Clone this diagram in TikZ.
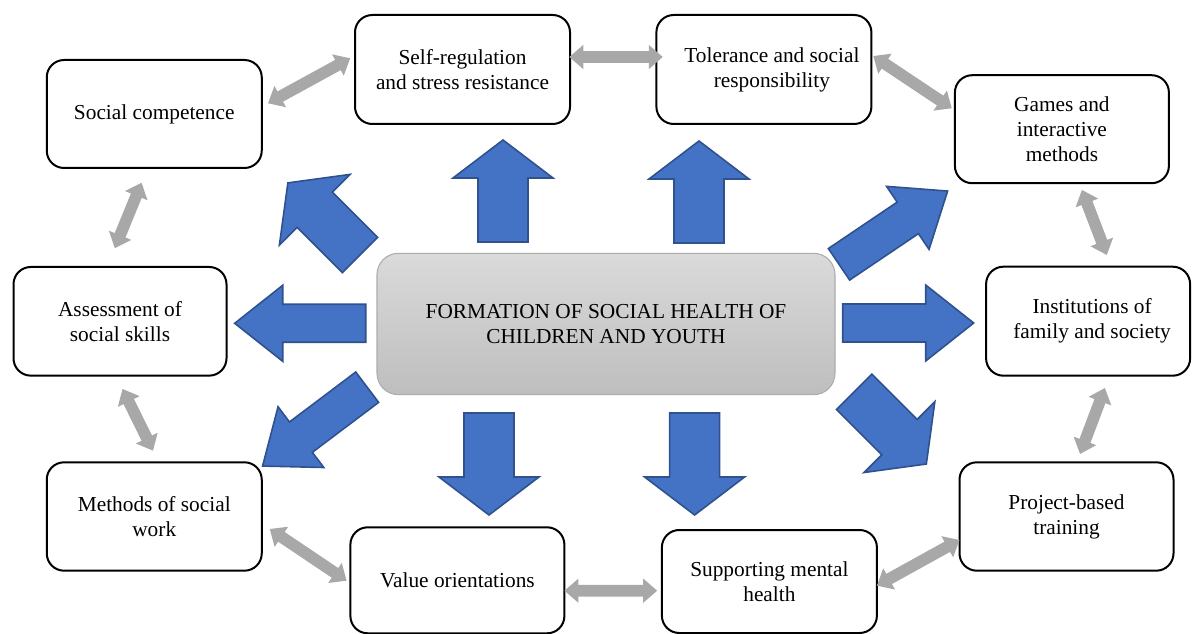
\documentclass[tikz,border=0pt]{standalone}
\usepackage{fontspec}
\setmainfont{Liberation Serif}
\usetikzlibrary{arrows.meta}
\definecolor{bluefill}{RGB}{68,114,196}
\definecolor{blueedge}{RGB}{47,82,143}
\definecolor{grayarrow}{RGB}{168,168,168}
\definecolor{ctop}{RGB}{218,218,218}
\definecolor{cbot}{RGB}{190,190,190}
\definecolor{cedge}{RGB}{172,172,172}
\tikzset{
  box/.style={draw=black, line width=1.5pt, rounded corners=13pt, fill=white,
    align=center, font=\fontsize{16pt}{18.75pt}\selectfont, inner sep=2pt, outer sep=0pt},
  centerbox/.style={draw=cedge, line width=0.8pt, rounded corners=16pt,
    top color=ctop, bottom color=cbot, align=center,
    font=\fontsize{16pt}{18.75pt}\selectfont, inner sep=2pt, outer sep=0pt,
    minimum width=343.5pt, minimum height=106pt},
  blockarrow/.style={draw=blueedge, fill=bluefill, line width=1.2pt, line join=miter},
  garrow/.style={draw=grayarrow, line width=8.75pt,
    {Triangle[length=10.5pt,width=17.5pt]}-{Triangle[length=10.5pt,width=17.5pt]}},
  pics/bigarrow/.style={code={
    \draw[blockarrow] (0,-25)--(64,-25)--(64,-50)--(102,0)--(64,50)--(64,25)--(0,25)--cycle;}},
  pics/longarrow/.style={code={
    \draw[blockarrow] (0,-19)--(83,-19)--(83,-38)--(131,0)--(83,38)--(83,19)--(0,19)--cycle;}}
}
\begin{document}
\begin{tikzpicture}[x=0.75pt,y=-0.75pt]
\useasboundingbox (0,0) rectangle (1192,634);

% centre
\node[centerbox] (ctr) at (606,324) {FORMATION OF SOCIAL HEALTH OF\\CHILDREN AND YOUTH};

% outer boxes
\node[box, minimum width=161.25pt, minimum height=81pt]   (sc)      at (154.25,114)  {Social competence};
\node[box, minimum width=161.25pt, minimum height=81.75pt] (sr)      at (462.5,69.5)  {Self-regulation\\and stress resistance};
\node[box, minimum width=161.25pt, minimum height=81.75pt] (tol)     at (763.9,69.5)  {\hspace*{12pt}Tolerance and social\\\hspace*{12pt}responsibility};
\node[box, minimum width=160.5pt,  minimum height=81pt]    (games)   at (1061.9,129.2) {Games and\\interactive\\methods};
\node[box, minimum width=153pt,    minimum height=81.75pt] (inst)    at (1088.1,321.2) {\hspace*{6pt}Institutions of\\\hspace*{6pt}family and society};
\node[box, minimum width=159.75pt, minimum height=81.5pt]  (assess)  at (120,321.3)   {Assessment of\\social skills};
\node[box, minimum width=161.25pt, minimum height=81.3pt]  (methods) at (154.25,516.5) {Methods of social\\work};
\node[box, minimum width=160.5pt,  minimum height=79.5pt]  (value)   at (457.4,580.3) {Value orientations};
\node[box, minimum width=161.25pt, minimum height=77.25pt] (supp)    at (769.4,581.5) {Supporting mental\\health};
\node[box, minimum width=160.5pt,  minimum height=81.3pt]  (project) at (1066.5,516.5) {Project-based\\training};

% blue block arrows from the centre
\pic[rotate=90]   at ([shift={(-103,-82)}]ctr.center)   {bigarrow};
\pic[rotate=90]   at ([shift={(93,-81)}]ctr.center)     {bigarrow};
\pic[rotate=-90]  at ([shift={(-117,89)}]ctr.center)    {bigarrow};
\pic[rotate=-90]  at ([shift={(88.6,89)}]ctr.center)    {bigarrow};
\pic[rotate=135]  at ([shift={(-246,-69)}]ctr.center)   {bigarrow};
\pic[rotate=-45]  at ([shift={(248.2,67.9)}]ctr.center) {bigarrow};
\pic[rotate=180]  at ([shift={(-240.3,-0.7)}]ctr.center) {longarrow};
\pic[rotate=0]    at ([shift={(236.7,-1)}]ctr.center)   {longarrow};
\pic[rotate=34]   at ([shift={(233,-59.7)}]ctr.center)  {longarrow};
\pic[rotate=217]  at ([shift={(-238.8,63.2)}]ctr.center) {longarrow};

% gray double arrows between neighbouring boxes
\draw[garrow] ([shift={(6.2,-10.7)}]sc.east) -- ([shift={(-4.8,-11.2)}]sr.west);
\draw[garrow] ([shift={(-12.65,14.7)}]sc.south) -- ([shift={(-5.2,-18.7)}]assess.north);
\draw[garrow] ([shift={(-0.7,-12.5)}]sr.east) -- ([shift={(6.4,-12.5)}]tol.west);
\draw[garrow] ([shift={(1.9,-13.5)}]tol.east) -- ([shift={(-3.1,-20.9)}]games.west);
\draw[garrow] ([shift={(20,6.7)}]games.south) -- ([shift={(18.7,-11.7)}]inst.north);
\draw[garrow] ([shift={(16.8,12.3)}]inst.south) -- ([shift={(13.5,-8.3)}]project.north);
\draw[garrow] ([shift={(0,23.5)}]project.west) -- ([shift={(0,4.2)}]supp.east);
\draw[garrow] ([shift={(-4.7,9.2)}]supp.west) -- ([shift={(0,10.4)}]value.east);
\draw[garrow] ([shift={(-3.8,0.4)}]value.west) -- ([shift={(8,12.5)}]methods.east);
\draw[garrow] ([shift={(-1.25,-11.6)}]methods.north) -- ([shift={(2.5,13.3)}]assess.south);
\end{tikzpicture}
\end{document}
